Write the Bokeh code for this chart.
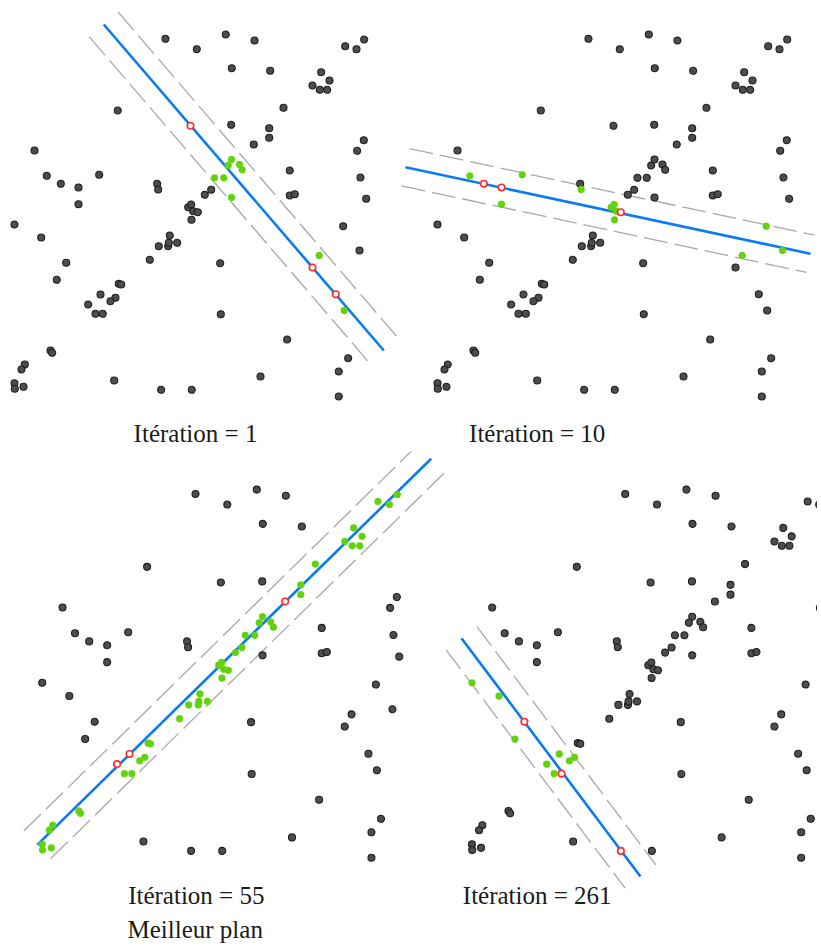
from bokeh.plotting import figure
from bokeh.layouts import column, row
from bokeh.models import ColumnDataSource, Label, Range1d
from bokeh.embed import file_html
from bokeh.resources import INLINE
import math

# ---------------- data: one point cloud shared by the four RANSAC iterations ----------------
# point numbers 1..91, coordinates in image units (x to the right, y downward)
point_x = [165.0, 225.3, 196.3, 254.0, 344.7, 356.0, 363.7, 231.3, 269.7, 320.7,
           329.0, 312.0, 319.3, 326.7, 283.0, 117.3, 230.7, 190.0, 268.7, 268.7,
           253.3, 363.3, 356.7, 34.0, 231.0, 239.0, 227.7, 241.7, 214.0, 223.3,
           231.0, 289.3, 360.0, 365.7, 46.3, 60.3, 78.0, 98.7, 78.0, 156.7,
           157.7, 210.7, 204.3, 289.3, 294.3, 187.7, 190.7, 192.7, 197.3, 191.0,
           14.0, 40.7, 342.7, 169.3, 158.3, 167.7, 168.3, 176.7, 359.0, 65.7,
           149.3, 219.7, 318.7, 56.3, 312.0, 118.3, 120.7, 100.0, 115.0, 110.0,
           87.7, 95.0, 102.3, 335.3, 343.7, 220.3, 286.7, 50.0, 51.7, 24.3,
           21.0, 347.7, 338.3, 260.0, 113.7, 14.0, 14.3, 23.0, 160.7, 191.3,
           338.3]
point_y = [38.3, 34.0, 48.7, 40.0, 45.7, 48.7, 39.0, 67.7, 70.3, 71.7,
           80.0, 85.0, 89.3, 89.3, 107.3, 110.0, 124.3, 125.3, 127.7, 137.3,
           144.0, 139.7, 150.3, 150.0, 159.0, 164.0, 165.0, 169.3, 177.3, 177.3,
           197.0, 170.0, 177.0, 198.3, 175.3, 183.3, 187.0, 174.3, 203.7, 183.3,
           189.0, 189.3, 194.3, 195.0, 193.7, 206.7, 204.0, 210.7, 211.7, 219.3,
           224.0, 237.0, 225.7, 235.0, 245.7, 245.7, 242.3, 242.3, 250.0, 262.3,
           259.3, 262.7, 255.0, 279.3, 267.0, 283.3, 284.0, 294.0, 297.3, 300.7,
           304.0, 313.3, 313.3, 293.7, 310.0, 313.7, 339.0, 350.0, 352.3, 364.0,
           369.0, 357.7, 371.0, 376.0, 380.0, 382.7, 388.3, 386.3, 389.3, 389.3,
           396.0]

iteration_labels = ["Itération = 1", "Itération = 10", "Itération = 55", "Itération = 261"]
best_label = "Meilleur plan"

# fitted model of each iteration: segment end points and inlier band half-width
model_x0 = [103.3, -18.0, 9.1, 3.7]
model_y0 = [24.0, 166.7, 383.3, 180.1]
model_x1 = [383.3, 387.0, 397.1, 180.0]
model_y1 = [350.0, 253.3, 3.7, 414.4]
band_half_width = [19.0, 19.0, 19.0, 19.0]

# sampled points (red rings) and inliers (green) of each iteration, by point number
samples = [
    [18, 65, 74],
    [36, 37, 49],
    [21, 68, 71],
    [60, 73, 89],
]
inliers = [
    [25, 26, 27, 28, 29, 30, 31, 63, 75],
    [35, 38, 39, 41, 46, 47, 48, 50, 53, 59, 63],
    [5, 6, 7, 10, 11, 12, 13, 14, 15, 19, 20, 25, 26, 27, 28, 29, 30, 42, 43, 46,
     47, 48, 49, 50, 54, 55, 56, 57, 58, 61, 66, 67, 69, 70, 72, 73, 78, 79, 80,
     81, 86, 87, 88],
    [51, 52, 64, 68, 69, 70, 71, 72],
]

# ---------------- layout (page pixels, root at top-left of the page) ----------------
frames = [(0, 400, 0, 451), (400, 817, 0, 451), (0, 444, 451, 947), (444, 817, 451, 947)]
# page = offset + scale * data
views = [(0.0, 0.0, 1.0, 1.0), (423.0, 0.0, 1.0, 1.0),
         (27.5, 454.5, 1.0153, 1.017), (457.2, 454.5, 1.0153, 1.017)]
TEXT_DY = -9.0   # labels render a little below their anchor
title_pos = [(195.0, 441.5), (536.7, 441.5), (195.8, 904.0), (536.7, 904.0)]
sub_pos = (194.7, 938.0)

BLUE = "#0a7af2"
DASH = "#a8a8a8"
GREEN = "#62d20c"
RED = "#ff2b2b"
GRAY_FILL = "#4d4d4d"
GRAY_LINE = "#1e1e1e"
FONT = "Liberation Serif"

figs = []
for k in range(4):
    px0, px1, py0, py1 = frames[k]
    a, b, s, t = views[k]
    p = figure(width=px1 - px0, height=py1 - py0,
               x_range=Range1d((px0 - a) / s, (px1 - a) / s),
               y_range=Range1d((py1 - b) / t, (py0 - b) / t),
               output_backend="svg", toolbar_location=None,
               x_axis_location=None, y_axis_location=None,
               min_border=0, outline_line_color=None,
               background_fill_color="white", border_fill_color="white")
    p.grid.visible = False

    # model line and inlier band
    x0, y0, x1, y1 = model_x0[k], model_y0[k], model_x1[k], model_y1[k]
    L = math.hypot(x1 - x0, y1 - y0)
    nx, ny = -(y1 - y0) / L, (x1 - x0) / L
    d = band_half_width[k]
    for sgn in (1, -1):
        p.line([x0 + sgn * d * nx, x1 + sgn * d * nx],
               [y0 + sgn * d * ny, y1 + sgn * d * ny],
               line_color=DASH, line_width=1.3, line_dash="24 7")
    p.line([x0, x1], [y0, y1], line_color=BLUE, line_width=2.6)

    special = set(inliers[k]) | set(samples[k])
    out_idx = [i for i in range(len(point_x)) if (i + 1) not in special]
    gray = ColumnDataSource(dict(x=[point_x[i] for i in out_idx],
                                 y=[point_y[i] for i in out_idx]))
    p.scatter("x", "y", source=gray, size=7, fill_color=GRAY_FILL,
              line_color=GRAY_LINE, line_width=1.1)

    green = ColumnDataSource(dict(x=[point_x[i - 1] for i in inliers[k]],
                                  y=[point_y[i - 1] for i in inliers[k]]))
    p.scatter("x", "y", source=green, size=6.8, fill_color=GREEN,
              line_color=GREEN, line_width=0.5)

    red = ColumnDataSource(dict(x=[point_x[i - 1] for i in samples[k]],
                                y=[point_y[i - 1] for i in samples[k]]))
    p.scatter("x", "y", source=red, size=6.5, fill_color="white",
              line_color=RED, line_width=1.6)

    tx, ty = title_pos[k]
    p.add_layout(Label(x=(tx - a) / s, y=(ty + TEXT_DY - b) / t, text=iteration_labels[k],
                       text_align="center", text_baseline="alphabetic",
                       text_font=FONT, text_font_size="25px", text_color="#1a1a1a"))
    if k == 2:
        sx, sy = sub_pos
        p.add_layout(Label(x=(sx - a) / s, y=(sy + TEXT_DY - b) / t, text=best_label,
                           text_align="center", text_baseline="alphabetic",
                           text_font=FONT, text_font_size="25px", text_color="#1a1a1a"))
    figs.append(p)

layout = column(row(figs[0], figs[1], spacing=0), row(figs[2], figs[3], spacing=0), spacing=0)

with open("out.html", "w") as f:
    f.write(file_html(layout, INLINE))
